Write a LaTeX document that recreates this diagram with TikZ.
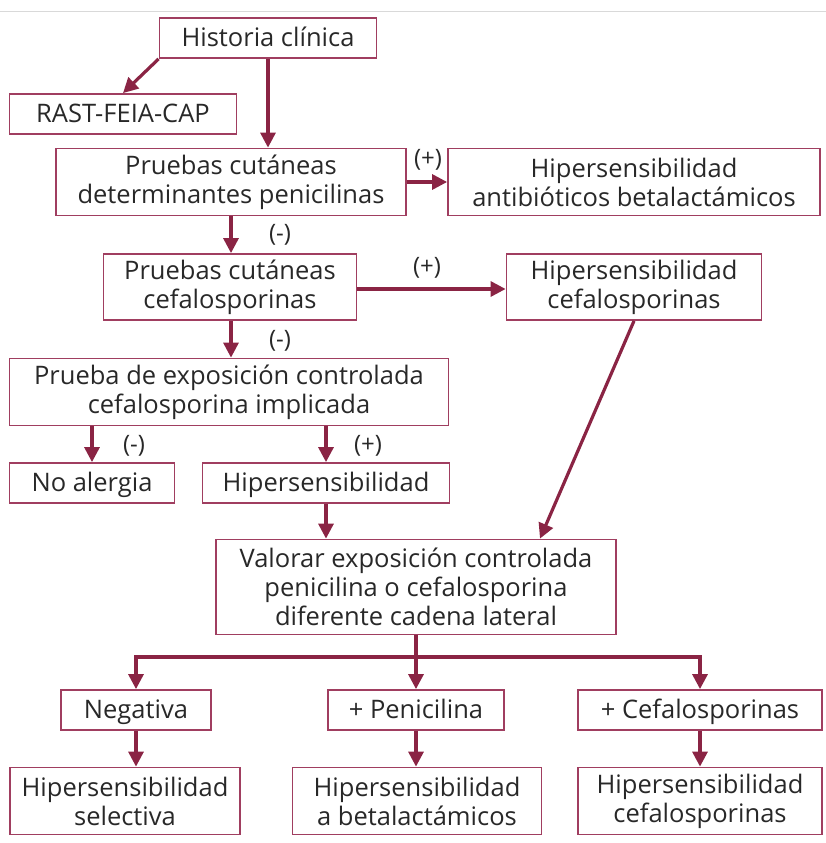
\documentclass[tikz,border=0pt]{standalone}
\usepackage{fontspec}
\setmainfont{Open Sans}
\usetikzlibrary{arrows.meta, positioning}
\definecolor{boxred}{RGB}{160,62,96}
\definecolor{arrred}{RGB}{138,36,68}
\definecolor{txtgray}{RGB}{40,40,40}

\begin{document}
\begin{tikzpicture}[x=1pt, y=-1pt,
        >={Triangle[length=15pt, width=15pt]},
        box/.style={draw=boxred, line width=1.8pt, inner sep=0pt, text=txtgray,
                    font=\fontsize{25.5}{29}\selectfont, align=center},
        onebox/.style={box, minimum height=40pt, text height=20.5pt, text depth=3pt},
        sign/.style={text=txtgray, font=\fontsize{24}{26}\selectfont, inner sep=0pt},
        arr/.style={->, draw=arrred, line width=3.2pt},
      ]
        \useasboundingbox (0,0) rectangle (826,843);
        \draw[black!15, line width=1pt] (0,12) -- (826,12);

        \node[onebox, minimum width=217pt] (hist) at (268,38) {Historia clínica};
        \node[onebox, minimum width=227pt] (rast) at (123,114) {RAST-FEIA-CAP};
        \node[box, minimum width=350pt, minimum height=67pt] (pcpen) at (231,182) {Pruebas cutáneas\\determinantes penicilinas};
        \node[box, minimum width=372pt, minimum height=67pt] (hbeta) at (634,182) {Hipersensibilidad\\antibióticos betalactámicos};
        \node[box, minimum width=253pt, minimum height=66pt] (pccef) at (230,287) {Pruebas cutáneas\\cefalosporinas};
        \node[box, minimum width=255pt, minimum height=66pt] (hcef) at (634,287) {Hipersensibilidad\\cefalosporinas};
        \node[box, minimum width=439pt, minimum height=67pt] (pexp) at (229,392) {Prueba de exposición controlada\\cefalosporina implicada};
        \node[onebox, minimum width=165pt] (noal) at (92,483) {No alergia};
        \node[onebox, minimum width=247pt] (hiper) at (326,483) {Hipersensibilidad};
        \node[box, minimum width=400pt, minimum height=95pt] (valor) at (416,587) {Valorar exposición controlada\\penicilina o cefalosporina\\diferente cadena lateral};
        \node[onebox, minimum width=150pt] (neg) at (136,710) {Negativa};
        \node[onebox, minimum width=176pt] (pen) at (416,710) {+ Penicilina};
        \node[onebox, minimum width=244pt] (cef) at (700,710) {+ Cefalosporinas};
        \node[box, minimum width=230pt, minimum height=67pt] (hsel) at (125,801) {Hipersensibilidad\\selectiva};
        \node[box, minimum width=249pt, minimum height=67pt] (hbl) at (417,801) {Hipersensibilidad\\a betalactámicos};
        \node[box, minimum width=244pt, minimum height=67pt] (hcef2) at (700,801) {Hipersensibilidad\\cefalosporinas};

        \coordinate (split) at (416,657);

        \draw[arr] (hist.south west) -- (rast.north);
        \draw[arr] (hist.south) -- (hist.south |- pcpen.north);
        \draw[arr] (pcpen) -- (hbeta);
        \draw[arr] (pcpen.south) -- (pcpen.south |- pccef.north);
        \draw[arr] (pccef.east |- 0,289) -- (hcef.west |- 0,289);
        \draw[arr] (pcpen.south |- pccef.south) -- (pcpen.south |- pexp.north);
        \draw[arr] (noal.north |- pexp.south) -- (noal.north);
        \draw[arr] (hiper.north |- pexp.south) -- (hiper.north);
        \draw[arr] (hiper.south) -- (hiper.south |- valor.north);
        \draw[arr] (hcef.south) -- ([xshift=124pt]valor.north);
        \draw[arr] (valor.south) -- (split) -| (neg.north);
        \draw[arr] (split) -- (pen.north);
        \draw[arr] (split) -| (cef.north);
        \draw[arr] (neg) -- (neg |- hsel.north);
        \draw[arr] (pen) -- (pen |- hbl.north);
        \draw[arr] (cef) -- (hcef2);

        \node[sign] (s1) at (428,160) {(+)};
        \node[sign] (s2) at (280,235) {(-)};
        \node[sign] (s3) at (427,268) {(+)};
        \node[sign] (s4) at (280,341) {(-)};
        \node[sign] (s5) at (134,446) {(-)};
        \node[sign] (s6) at (368,446) {(+)};
      \end{tikzpicture}
\end{document}
